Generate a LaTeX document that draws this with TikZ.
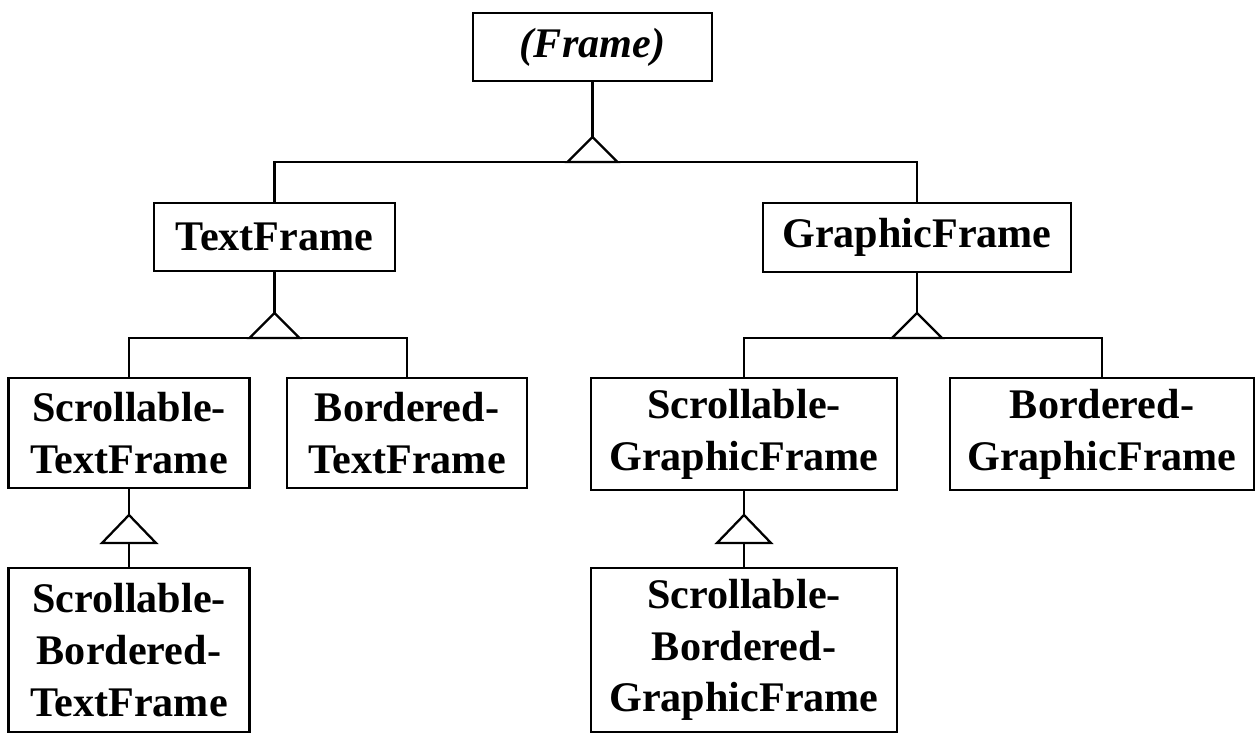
\documentclass[tikz,border=0pt]{standalone}
\usepackage{fontspec}
\setmainfont{Liberation Serif}
\usetikzlibrary{positioning}

\begin{document}
\begin{tikzpicture}[x=0.02cm,y=-0.02cm,
  cls/.style={draw,line width=1.2pt,align=center,inner sep=0pt,
    font=\fontsize{24}{29.5}\selectfont\bfseries},
  isa/.style={line width=1.3pt},
  tri/.style={line width=1.3pt,fill=white,line join=miter}]
  \useasboundingbox (0,0) rectangle (1255,733);
  % classes
  \node[cls,minimum width=4.78cm,minimum height=1.36cm] (frame) at (592.5,47) {\itshape (Frame)};
  \node[cls,minimum width=4.82cm,minimum height=1.36cm] (textframe) at (274.5,237) {TextFrame};
  \node[cls,minimum width=6.16cm,minimum height=1.38cm] (graphicframe) at (917,237.5) {GraphicFrame};
  \node[cls,minimum width=4.82cm,minimum height=2.2cm] (stf) at (129,433) {Scrollable-\\TextFrame};
  \node[cls,minimum width=4.8cm,minimum height=2.2cm] (btf) at (407,433) {Bordered-\\TextFrame};
  \node[cls,minimum width=6.12cm,minimum height=2.24cm] (sgf) at (744,434) {Scrollable-\\GraphicFrame};
  \node[cls,minimum width=6.08cm,minimum height=2.24cm] (bgf) at (1102,434) {Bordered-\\GraphicFrame};
  \node[cls,minimum width=4.82cm,minimum height=3.28cm] (sbtf) at (129,650) {Scrollable-\\Bordered-\\TextFrame};
  \node[cls,minimum width=6.12cm,minimum height=3.28cm] (sbgf) at (744,650) {Scrollable-\\Bordered-\\GraphicFrame};
  % inheritance triangles
  \coordinate (apex1) at (592.5,137); \coordinate (base1) at (592.5,162);
  \coordinate (apex2) at (274.5,313); \coordinate (base2) at (274.5,338);
  \coordinate (apex3) at (917,313);   \coordinate (base3) at (917,338);
  \coordinate (apex4) at (129,515);   \coordinate (base4) at (129,543);
  \coordinate (apex5) at (744,515);   \coordinate (base5) at (744,543);
  \draw[isa] (frame.south) -- (apex1);
  \draw[isa] (textframe.north) |- (base1) -| (graphicframe.north);
  \draw[tri] (apex1) -- ++(-25,25) -- ++(50,0) -- cycle;
  \draw[isa] (textframe.south) -- (apex2);
  \draw[isa] (stf.north) |- (base2) -| (btf.north);
  \draw[tri] (apex2) -- ++(-25,25) -- ++(50,0) -- cycle;
  \draw[isa] (graphicframe.south) -- (apex3);
  \draw[isa] (sgf.north) |- (base3) -| (bgf.north);
  \draw[tri] (apex3) -- ++(-25,25) -- ++(50,0) -- cycle;
  \draw[isa] (stf.south) -- (apex4);
  \draw[isa] (base4) -- (sbtf.north);
  \draw[tri] (apex4) -- ++(-27,28) -- ++(54,0) -- cycle;
  \draw[isa] (sgf.south) -- (apex5);
  \draw[isa] (base5) -- (sbgf.north);
  \draw[tri] (apex5) -- ++(-27,28) -- ++(54,0) -- cycle;
\end{tikzpicture}
\end{document}
